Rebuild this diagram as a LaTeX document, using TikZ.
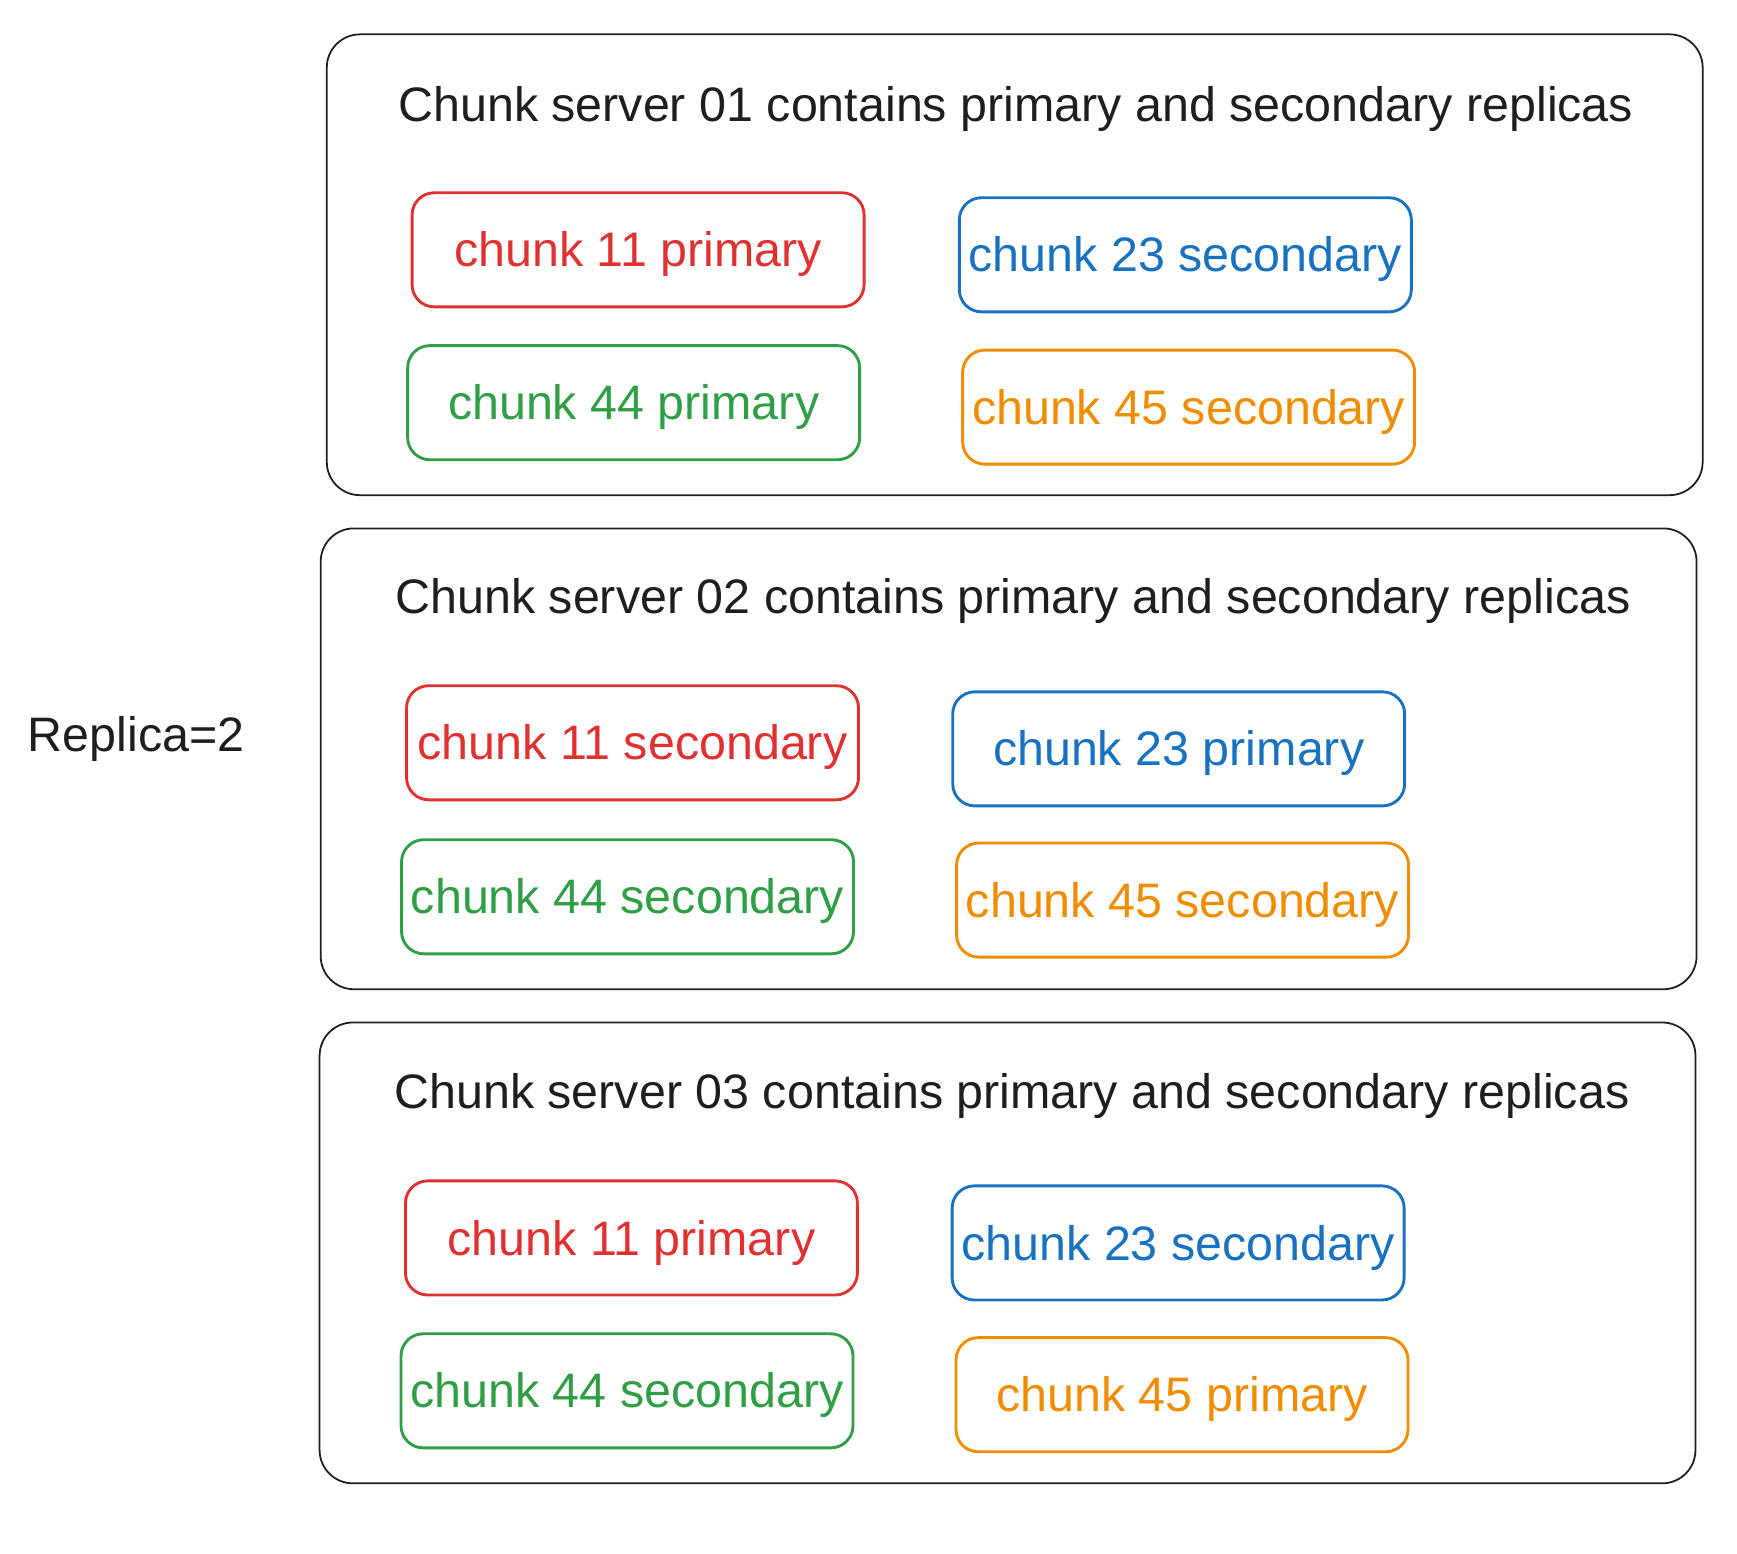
\documentclass[tikz,border=0pt]{standalone}
\usepackage{fontspec}
\setmainfont{Liberation Sans}
\definecolor{cred}{HTML}{E03131}
\definecolor{cblue}{HTML}{1971C2}
\definecolor{cgreen}{HTML}{2F9E44}
\definecolor{corange}{HTML}{F08C00}
\definecolor{ink}{HTML}{1E1E1E}
\begin{document}
\begin{tikzpicture}[x=0.5pt,y=-0.5pt,
  lbl/.style={font=\fontsize{21.85pt}{26pt}\selectfont, inner sep=0pt, text=ink, anchor=base},
  server/.style={draw=ink, line width=0.8pt, rounded corners=15pt, minimum width=621pt, minimum height=208pt, inner sep=0pt},
  chunkbox/.style={draw=#1, text=#1, line width=1.3pt, rounded corners=10pt, minimum width=204pt, minimum height=51.5pt, inner sep=0pt, text height=20pt, text depth=4.6pt, font=\fontsize{21.85pt}{26pt}\selectfont}]
\useasboundingbox (0,0) rectangle (1568,1402);
% servers
\node[server] (srv1) at (916,239) {};
\node[server] (srv2) at (910.5,685) {};
\node[server] (srv3) at (909.5,1131) {};
\node[lbl] (t1) at (917,110) {Chunk server 01 contains primary and secondary replicas};
\node[lbl] (t2) at (914.5,554) {Chunk server 02 contains primary and secondary replicas};
\node[lbl] (t3) at (913.5,1001) {Chunk server 03 contains primary and secondary replicas};
\node[lbl] (rep) at (123,678.5) {Replica=2};
% server 1
\node[chunkbox=cred] (a11) at (576,225.5) {chunk 11 primary};
\node[chunkbox=cblue] (a23) at (1070,230) {chunk 23 secondary};
\node[chunkbox=cgreen] (a44) at (572,363.5) {chunk 44 primary};
\node[chunkbox=corange] (a45) at (1073,367.5) {chunk 45 secondary};
% server 2
\node[chunkbox=cred] (b11) at (571,670.5) {chunk 11 secondary};
\node[chunkbox=cblue] (b23) at (1064,676) {chunk 23 primary};
\node[chunkbox=cgreen] (b44) at (566.5,809.5) {chunk 44 secondary};
\node[chunkbox=corange] (b45) at (1067.5,812.5) {chunk 45 secondary};
% server 3
\node[chunkbox=cred] (c11) at (570,1117.5) {chunk 11 primary};
\node[chunkbox=cblue] (c23) at (1063.5,1122) {chunk 23 secondary};
\node[chunkbox=cgreen] (c44) at (566,1255.5) {chunk 44 secondary};
\node[chunkbox=corange] (c45) at (1067,1259) {chunk 45 primary};
\end{tikzpicture}
\end{document}
